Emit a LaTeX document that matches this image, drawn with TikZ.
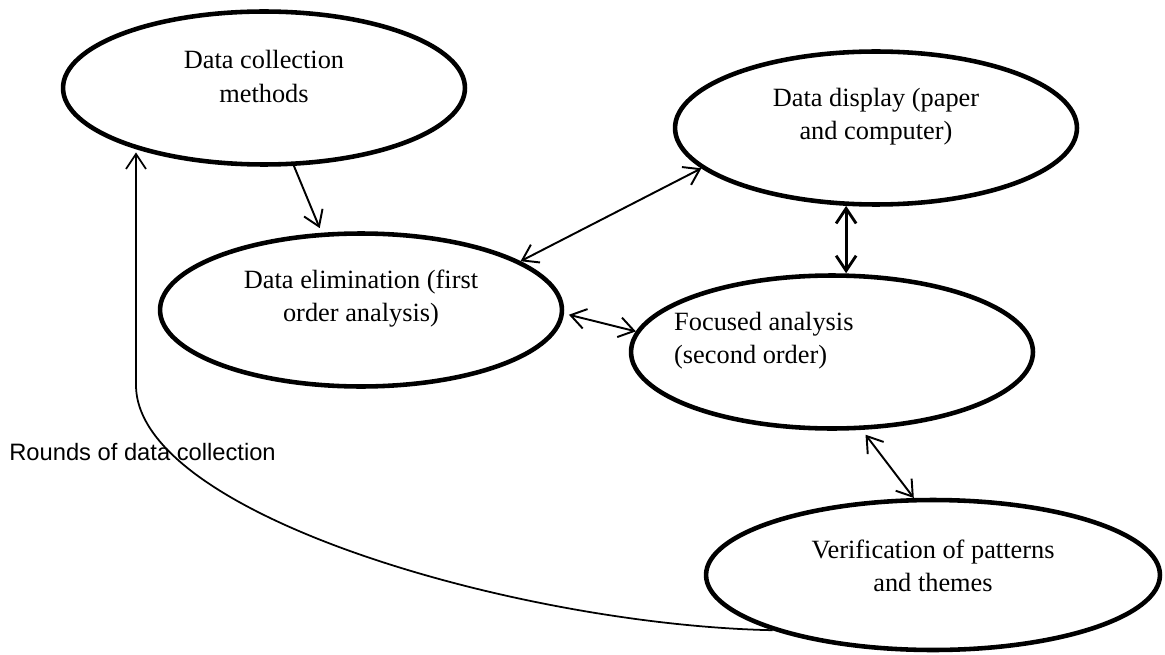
\documentclass[tikz,border=0pt]{standalone}
\usepackage{fontspec}
\setmainfont{Liberation Serif}
\newfontfamily\notefont{Liberation Sans}
\usetikzlibrary{arrows.meta,shapes.geometric}

\begin{document}
\begin{tikzpicture}[x=0.02cm,y=-0.02cm,stage/.style={ellipse,draw,line width=2.6pt,minimum width=8.04cm,minimum height=3.06cm,inner sep=0pt},stagetext/.style={align=center,font=\fontsize{15}{18.8}\selectfont,yshift=2.3mm},link/.style={line width=1.1pt,>={Straight Barb[length=3mm,width=4mm]}}]
\useasboundingbox (0,0) rectangle (1165,655);
\coordinate (bend) at (136,385);
\node[stage] (collect) at (264,88) {};
\node[stagetext] (collect-t) at (collect) {Data collection\\methods};
\node[stage] (display) at (876,128) {};
\node[stagetext] (display-t) at (display) {Data display (paper\\and computer)};
\node[stage] (elim) at (361,310) {};
\node[stagetext] (elim-t) at (elim) {Data elimination (first\\order analysis)};
\node[stage] (focus) at (832,352) {};
\node[stagetext,align=left,anchor=west] (focus-t) at (668,352) {Focused analysis\\(second order)};
\node[stage,minimum width=9.08cm,minimum height=3cm] (verif) at (933,575) {};
\node[stagetext,yshift=-0.5mm] (verif-t) at (verif) {Verification of patterns\\and themes};
\draw[link,->,shorten >=1mm] (collect.-69) -- (elim.117);
\draw[link,<->] (elim.17) -- (display.-167);
\draw[link,<->,line width=1.6pt] (display.-111) -- (display.-111 |- focus.north);
\draw[link,<->,shorten <=1mm] (elim.-1) -- (focus.174);
\draw[link,<->,shorten <=1.2mm] (focus.-69) -- (verif.104);
\draw[link,->,line width=1pt,shorten >=1mm] (verif.-161) .. controls (520,625) and (136,515) .. (bend) -- (bend |- collect.-156);
\node[font={\notefont\fontsize{13.5}{16}\selectfont},anchor=base west,inner sep=0pt] (rounds) at (9,460) {Rounds of data collection};
\end{tikzpicture}
\end{document}
